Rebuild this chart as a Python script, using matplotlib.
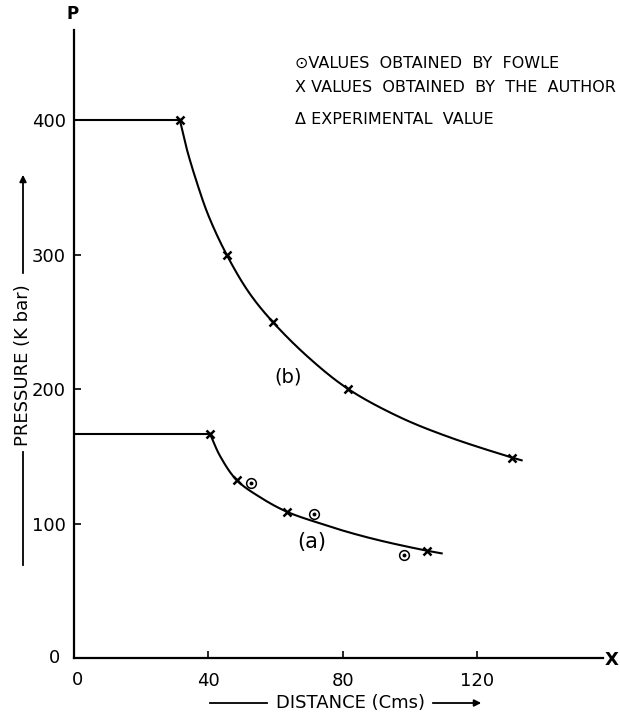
import numpy as np
import matplotlib
matplotlib.use("Agg")
import matplotlib.pyplot as plt
from matplotlib.patches import FancyArrowPatch

# ---- data ----
# curve (b): plateau then decay
b_plateau_x = [0, 31.5]
b_plateau_y = [400, 400]
b_curve_x = [31.5, 33.5, 36.5, 40.0, 45.4, 52.0, 59.1, 70.0, 81.6, 97.0, 111.9, 130.4, 133.2]
b_curve_y = [400, 379, 354, 329, 300, 272, 250, 223, 200, 179, 164, 149, 147]
b_author_x = [31.5, 45.4, 59.1, 81.6, 130.4]
b_author_y = [400, 300, 250, 200, 149]

# curve (a)
a_plateau_x = [0, 40.5]
a_plateau_y = [166.5, 166.5]
a_curve_x = [40.5, 43.5, 48.4, 55.4, 63.3, 73.2, 82.0, 92.0, 105.0, 109.4]
a_curve_y = [166.5, 150, 132.3, 119.5, 108.8, 100.1, 93.3, 86.8, 79.8, 77.8]
a_author_x = [40.5, 48.4, 63.3, 105.0]
a_author_y = [166.5, 132.3, 108.8, 79.8]
fowle_x = [52.6, 71.5, 98.2]
fowle_y = [130.3, 107.0, 76.3]

x_ticks = [40, 80, 120]
x_ticklabels = ["40", "80", "120"]
y_ticks = [100, 200, 300, 400]
y_ticklabels = ["100", "200", "300", "400"]

legend_lines = ["\u2299VALUES  OBTAINED  BY  FOWLE",
                "X VALUES  OBTAINED  BY  THE  AUTHOR",
                "\u0394 EXPERIMENTAL  VALUE"]

W, H = 620, 718
fig = plt.figure(figsize=(W / 100, H / 100), dpi=100)
ax = fig.add_axes([74 / W, (H - 658) / H, (603 - 74) / W, (658 - 30) / H])
ax.set_xlim(0, 157.4)
ax.set_ylim(0, 467)

for s in ["top", "right"]:
    ax.spines[s].set_visible(False)
for s in ["left", "bottom"]:
    ax.spines[s].set_linewidth(1.6)
    ax.spines[s].set_color("black")


def smooth_path(xs, ys, n=20):
    # centripetal Catmull-Rom rendering through the read points
    pts = np.column_stack([xs, ys]).astype(float)
    # scale to pixel-like units so the parametrisation is isotropic
    sc = np.array([3.36, 1.345])
    q = pts * sc
    Q = np.vstack([q[0] * 2 - q[1], q, q[-1] * 2 - q[-2]])
    out = []
    for i in range(1, len(Q) - 2):
        p0, p1, p2, p3 = Q[i - 1], Q[i], Q[i + 1], Q[i + 2]
        t0 = 0.0
        t1 = t0 + np.linalg.norm(p1 - p0) ** 0.5
        t2 = t1 + np.linalg.norm(p2 - p1) ** 0.5
        t3 = t2 + np.linalg.norm(p3 - p2) ** 0.5
        t = np.linspace(t1, t2, n, endpoint=False)[:, None]
        A1 = (t1 - t) / (t1 - t0) * p0 + (t - t0) / (t1 - t0) * p1
        A2 = (t2 - t) / (t2 - t1) * p1 + (t - t1) / (t2 - t1) * p2
        A3 = (t3 - t) / (t3 - t2) * p2 + (t - t2) / (t3 - t2) * p3
        B1 = (t2 - t) / (t2 - t0) * A1 + (t - t0) / (t2 - t0) * A2
        B2 = (t3 - t) / (t3 - t1) * A2 + (t - t1) / (t3 - t1) * A3
        C = (t2 - t) / (t2 - t1) * B1 + (t - t1) / (t2 - t1) * B2
        out.append(C)
    out.append(q[-1][None, :])
    return np.vstack(out) / sc


lw = 1.5
ax.plot(b_plateau_x, b_plateau_y, color="black", lw=lw)
sb = smooth_path(b_curve_x, b_curve_y)
ax.plot(sb[:, 0], sb[:, 1], color="black", lw=lw)
ax.plot(a_plateau_x, a_plateau_y, color="black", lw=lw)
sa = smooth_path(a_curve_x, a_curve_y)
ax.plot(sa[:, 0], sa[:, 1], color="black", lw=lw)

ax.plot(b_author_x, b_author_y, ls="none", marker="x", ms=6, mew=1.8, color="black")
ax.plot(a_author_x, a_author_y, ls="none", marker="x", ms=6, mew=1.8, color="black")
ax.plot(fowle_x, fowle_y, ls="none", marker="o", ms=7, mfc="none", mec="black", mew=1.1)
ax.plot(fowle_x, fowle_y, ls="none", marker="o", ms=1.8, color="black")

ax.text(63.8, 209, "(b)", fontsize=14, ha="center", va="center")
ax.text(70.7, 86.5, "(a)", fontsize=15, ha="center", va="center")

ax.set_xticks(x_ticks)
ax.set_xticklabels(x_ticklabels)
ax.set_yticks(y_ticks)
ax.set_yticklabels(y_ticklabels)
ax.tick_params(axis="x", direction="in", length=5, width=1.2, labelsize=13, pad=10)
ax.tick_params(axis="y", direction="in", length=5, width=1.2, labelsize=13, pad=6)

# origin label "0" on both axes
fig.text(60 / W, 1 - 658 / H, "0", fontsize=13, ha="right", va="center")
fig.text(78 / W, 1 - 680 / H, "0", fontsize=13, ha="center", va="center")

# axis end letters
fig.text(612 / W, 1 - 660 / H, "X", fontsize=13, fontweight="bold", ha="center", va="center")
fig.text(73 / W, 1 - 14 / H, "P", fontsize=12, fontweight="bold", ha="center", va="center")

# legend text
for txt, ypx in zip(legend_lines, [63, 88, 120]):
    fig.text(295 / W, 1 - ypx / H, txt, fontsize=11.5, ha="left", va="center")

# x axis label with arrow
fig.text(350 / W, 1 - 703 / H, "DISTANCE (Cms)", fontsize=13, ha="center", va="center")
fig.add_artist(plt.Line2D([210 / W, 267 / W], [1 - 703 / H, 1 - 703 / H], color="black", lw=1.3))
fig.add_artist(FancyArrowPatch((430 / W, 1 - 703 / H), (484 / W, 1 - 703 / H),
                               transform=fig.transFigure, arrowstyle="-|>",
                               mutation_scale=10, color="black", lw=1.3))

# y axis label with arrow
fig.text(23 / W, 1 - 365 / H, "PRESSURE (K bar)", fontsize=13, rotation=90, ha="center", va="center")
fig.add_artist(plt.Line2D([23 / W, 23 / W], [1 - 452 / H, 1 - 565 / H], color="black", lw=1.3))
fig.add_artist(FancyArrowPatch((23 / W, 1 - 276 / H), (23 / W, 1 - 172 / H),
                               transform=fig.transFigure, arrowstyle="-|>",
                               mutation_scale=10, color="black", lw=1.3))

fig.savefig("out.png", dpi=100)
